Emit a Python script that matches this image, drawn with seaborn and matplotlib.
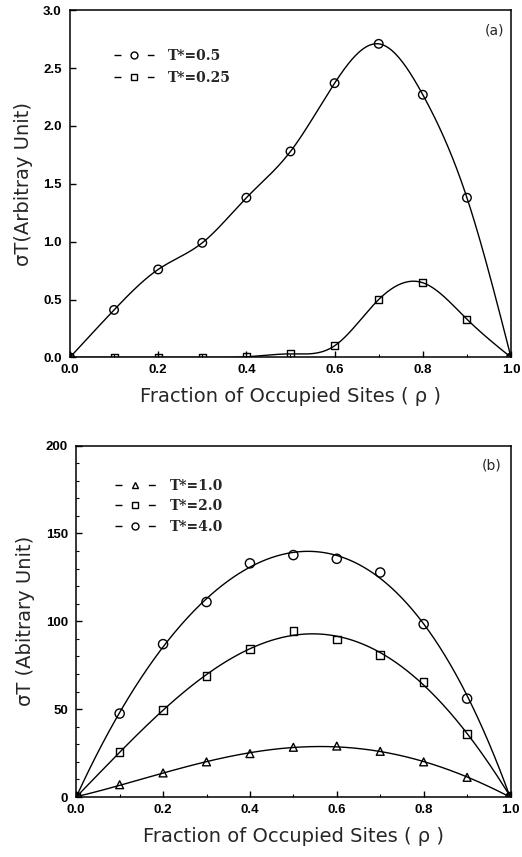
import numpy as np
import pandas as pd
import matplotlib
matplotlib.use("Agg")
import matplotlib.pyplot as plt
from matplotlib.lines import Line2D
from matplotlib.ticker import MultipleLocator, FormatStrFormatter
import seaborn as sns

# ---- data -------------------------------------------------------------
rho = [0.0, 0.1, 0.2, 0.3, 0.4, 0.5, 0.6, 0.7, 0.8, 0.9, 1.0]

# panel (a)
sig_t05 = [0.0, 0.41, 0.76, 0.99, 1.38, 1.78, 2.37, 2.71, 2.27, 1.38, 0.0]
sig_t025 = [0.0, 0.0, 0.0, 0.0, 0.005, 0.03, 0.10, 0.50, 0.645, 0.33, 0.0]

# panel (b)
sig_t1 = [0.0, 7.0, 13.7, 20.0, 24.7, 28.3, 29.0, 26.0, 20.0, 11.2, 0.0]
sig_t2 = [0.0, 25.6, 49.4, 69.0, 84.3, 94.6, 89.6, 81.0, 65.5, 35.7, 0.0]
sig_t4 = [0.0, 47.5, 87.0, 111.0, 133.0, 137.7, 135.6, 127.8, 98.4, 56.0, 0.0]

labels_a = ["T*=0.5", "T*=0.25"]
labels_b = ["T*=1.0", "T*=2.0", "T*=4.0"]


def natural_spline(x, y, xs):
    """Natural cubic spline through (x, y), evaluated at xs."""
    x = np.asarray(x, float)
    y = np.asarray(y, float)
    n = len(x)
    h = np.diff(x)
    A = np.zeros((n, n))
    b = np.zeros(n)
    A[0, 0] = A[-1, -1] = 1.0
    for i in range(1, n - 1):
        A[i, i - 1] = h[i - 1]
        A[i, i] = 2 * (h[i - 1] + h[i])
        A[i, i + 1] = h[i]
        b[i] = 3 * ((y[i + 1] - y[i]) / h[i] - (y[i] - y[i - 1]) / h[i - 1])
    c = np.linalg.solve(A, b)
    idx = np.clip(np.searchsorted(x, xs) - 1, 0, n - 2)
    dx = xs - x[idx]
    bb = (y[idx + 1] - y[idx]) / h[idx] - h[idx] * (2 * c[idx] + c[idx + 1]) / 3
    dd = (c[idx + 1] - c[idx]) / (3 * h[idx])
    return y[idx] + bb * dx + c[idx] * dx ** 2 + dd * dx ** 3


xs = np.linspace(0, 1, 400)

sns.set_style("ticks")
plt.rcParams["font.family"] = ["DejaVu Sans"]

fig = plt.figure(figsize=(5.22, 8.57), dpi=100)
ax_a = fig.add_axes([0.134, 0.583, 0.845, 0.405])
ax_b = fig.add_axes([0.146, 0.070, 0.832, 0.410])

mk = dict(facecolor="none", edgecolor="black", linewidth=1.0, zorder=3)


def style_axis(ax):
    for s in ax.spines.values():
        s.set_linewidth(1.1)
        s.set_color("black")
    ax.tick_params(which="both", direction="in", top=False, right=False,
                   colors="black", labelsize=9.5,
                   labelfontfamily="Liberation Sans")
    ax.tick_params(which="major", length=4, width=1)
    ax.tick_params(which="minor", length=2.5, width=0.8)
    ax.tick_params(axis="y", which="major", pad=6)
    ax.tick_params(axis="x", which="major", pad=5)
    for lab in ax.get_xticklabels() + ax.get_yticklabels():
        lab.set_fontweight("bold")


def legend_handle(marker):
    return Line2D([], [], color="black", linewidth=1.0,
                  linestyle=(0, (5, 19, 5, 200)),
                  marker=marker, markersize=5, markerfacecolor="none",
                  markeredgecolor="black", markeredgewidth=1.0)


# ---- panel (a) ---------------------------------------------------------
df_a = pd.DataFrame({"rho": rho, "t05": sig_t05, "t025": sig_t025})
for col in ["t05", "t025"]:
    sns.lineplot(x=xs, y=natural_spline(df_a["rho"], df_a[col], xs),
                 ax=ax_a, color="black", linewidth=1.0)
sns.scatterplot(data=df_a, x="rho", y="t05", marker="o", s=38, ax=ax_a, **mk)
sns.scatterplot(data=df_a, x="rho", y="t025", marker="s", s=26, ax=ax_a, **mk)

ax_a.set_xlim(0, 1.0)
ax_a.set_ylim(0, 3.0)
ax_a.xaxis.set_major_locator(MultipleLocator(0.2))
ax_a.xaxis.set_minor_locator(MultipleLocator(0.1))
ax_a.yaxis.set_major_locator(MultipleLocator(0.5))
ax_a.xaxis.set_major_formatter(FormatStrFormatter("%.1f"))
ax_a.yaxis.set_major_formatter(FormatStrFormatter("%.1f"))
ax_a.set_xlabel("Fraction of Occupied Sites ( \u03c1 )", fontsize=14, labelpad=8)
ax_a.set_ylabel("\u03c3T(Arbitray Unit)", fontsize=14, labelpad=7)
style_axis(ax_a)
ax_a.text(0.985, 0.942, "(a)", transform=ax_a.transAxes, ha="right",
          va="center", fontsize=10)
ax_a.legend([legend_handle("o"), legend_handle("s")], labels_a,
            loc="upper left", bbox_to_anchor=(0.10, 0.888), frameon=False,
            handlelength=2.9, handletextpad=1.0, labelspacing=0.55,
            borderpad=0, borderaxespad=0,
            prop={"family": "DejaVu Serif", "weight": "bold", "size": 10})

# ---- panel (b) ---------------------------------------------------------
df_b = pd.DataFrame({"rho": rho, "t1": sig_t1, "t2": sig_t2, "t4": sig_t4})
for col in ["t1", "t2", "t4"]:
    coef = np.polyfit(df_b["rho"], df_b[col], 4)
    sns.lineplot(x=xs, y=np.polyval(coef, xs), ax=ax_b, color="black",
                 linewidth=1.0)
sns.scatterplot(data=df_b, x="rho", y="t1", marker="^", s=32, ax=ax_b, **mk)
sns.scatterplot(data=df_b, x="rho", y="t2", marker="s", s=30, ax=ax_b, **mk)
sns.scatterplot(data=df_b, x="rho", y="t4", marker="o", s=44, ax=ax_b, **mk)

ax_b.set_xlim(0, 1.0)
ax_b.set_ylim(0, 200)
ax_b.xaxis.set_major_locator(MultipleLocator(0.2))
ax_b.xaxis.set_minor_locator(MultipleLocator(0.1))
ax_b.yaxis.set_major_locator(MultipleLocator(50))
ax_b.yaxis.set_minor_locator(MultipleLocator(10))
ax_b.xaxis.set_major_formatter(FormatStrFormatter("%.1f"))
ax_b.yaxis.set_major_formatter(FormatStrFormatter("%d"))
ax_b.set_xlabel("Fraction of Occupied Sites ( \u03c1 )", fontsize=14, labelpad=8)
ax_b.set_ylabel("\u03c3T (Abitrary Unit)", fontsize=14, labelpad=8)
style_axis(ax_b)
ax_b.text(0.98, 0.943, "(b)", transform=ax_b.transAxes, ha="right",
          va="center", fontsize=10)
ax_b.legend([legend_handle("^"), legend_handle("s"), legend_handle("o")],
            labels_b, loc="upper left", bbox_to_anchor=(0.09, 0.905),
            frameon=False, handlelength=2.9, handletextpad=1.0,
            labelspacing=0.45, borderpad=0, borderaxespad=0,
            prop={"family": "DejaVu Serif", "weight": "bold", "size": 10})

fig.savefig("out.png", dpi=100)
